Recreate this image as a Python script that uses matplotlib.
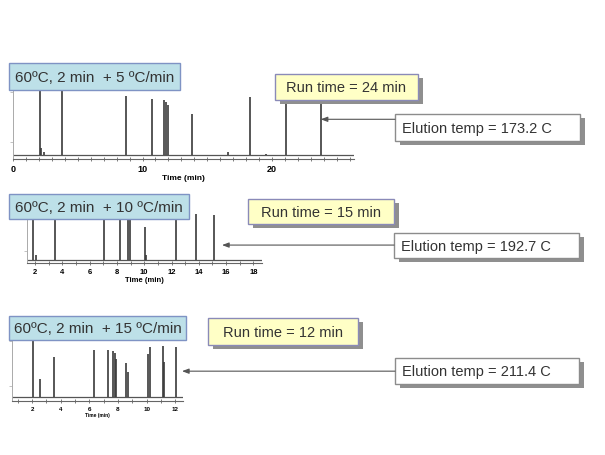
"""
三段升溫程式的層析圖比較
"""
import matplotlib
matplotlib.use("Agg")
import matplotlib.pyplot as plt
from matplotlib.patches import Rectangle
from matplotlib.ticker import MultipleLocator

plt.rcParams["font.family"] = ["Liberation Sans", "DejaVu Sans"]

W, H = 605, 456

# 各程式的標題、執行時間與溶出溫度
program_labels = ["60ºC, 2 min  + 5 ºC/min", "60ºC, 2 min  + 10 ºC/min", "60ºC, 2 min  + 15 ºC/min"]
run_times = [24, 15, 12]
elution_temps = [173.2, 192.7, 211.4]

# 5 ºC/min 峰的滯留時間 (min) 與相對高度
peaks_5_t = [2.1, 2.2, 2.4, 3.76, 8.7, 10.76, 11.66, 11.8, 12.0, 13.85, 16.6, 18.3, 19.5, 21.1, 23.76]
peaks_5_h = [1.05, 0.11, 0.05, 1.05, 0.91, 0.86, 0.85, 0.82, 0.77, 0.63, 0.05, 0.89, 0.02, 1.05, 1.05]

# 10 ºC/min
peaks_10_t = [1.88, 2.05, 3.47, 7.08, 8.23, 8.79, 8.96, 10.06, 10.15, 12.33, 13.8, 15.14]
peaks_10_h = [1.05, 0.10, 1.05, 0.96, 1.05, 1.05, 0.90, 0.70, 0.10, 1.0, 0.98, 0.96]

# 15 ºC/min
peaks_15_t = [2.08, 2.55, 3.52, 6.34, 7.28, 7.67, 7.79, 7.86, 8.56, 8.68, 10.08, 10.24, 11.13, 11.24, 12.06]
peaks_15_h = [1.05, 0.32, 0.69, 0.81, 0.81, 0.79, 0.76, 0.66, 0.59, 0.44, 0.74, 0.86, 0.88, 0.61, 0.86]

x_limits = [(0, 26.3), (1.41, 18.63), (0.57, 12.52)]
major_steps = [10, 2, 2]
# 軸框位置 (像素: 左, 右, 上, 下)
panel_px = [(13, 353.6, 91, 160), (27, 262, 214, 264), (11.7, 182.7, 340, 402)]
tick_sizes = [6.5, 5.5, 4.5]
xlabel_sizes = [6, 5.5, 3.5]

fig = plt.figure(figsize=(W / 100, H / 100), dpi=100)
fig.patch.set_facecolor("white")

axes = []
for (t, h), xlim, step, (l, r, top, bot), ts, ls in zip(
    [(peaks_5_t, peaks_5_h), (peaks_10_t, peaks_10_h), (peaks_15_t, peaks_15_h)],
    x_limits, major_steps, panel_px, tick_sizes, xlabel_sizes,
):
    ax = fig.add_axes([l / W, 1 - bot / H, (r - l) / W, (bot - top) / H])
    ax.set_xlim(*xlim)
    ax.set_ylim(-0.06, 1.0)
    ax.axhline(0, color="#555555", lw=0.9)
    ax.vlines(t, 0, h, color="#3a3a3a", lw=1.2, clip_on=True)
    for side in ("top", "right"):
        ax.spines[side].set_visible(False)
    ax.spines["left"].set_color("#aaaaaa")
    ax.spines["left"].set_linewidth(0.7)
    ax.spines["bottom"].set_color("#666666")
    ax.spines["bottom"].set_linewidth(0.8)
    ax.set_yticks([0.2, 0.97])
    ax.set_yticklabels([])
    ax.tick_params(axis="y", length=2, width=0.5, color="#aaaaaa")
    ax.xaxis.set_major_locator(MultipleLocator(step))
    ax.xaxis.set_minor_locator(MultipleLocator(1))
    ax.tick_params(axis="x", which="both", direction="inout", length=3, width=0.6,
                   color="#666666", labelsize=ts, pad=2)
    for lab in ax.get_xticklabels():
        lab.set_fontweight("bold")
    ax.set_xlabel("Time (min)", fontsize=ls, fontweight="bold", labelpad=1)
    ax.patch.set_alpha(0)
    axes.append(ax)

# 疊加一層像素座標的軸，用來畫標註框
ov = fig.add_axes([0, 0, 1, 1], zorder=10)
ov.set_xlim(0, W)
ov.set_ylim(H, 0)
ov.axis("off")
ov.patch.set_alpha(0)


def box(x, y, w, h, text, fc, ec, fs, shadow=False, pad=None):
    if shadow:
        ov.add_patch(Rectangle((x + 5, y + 4), w, h, fc="#8f8f8f", ec="none"))
    ov.add_patch(Rectangle((x, y), w, h, fc=fc, ec=ec, lw=1.0))
    if pad is None:
        ov.text(x + w / 2, y + h / 2 + 0.5, text, ha="center", va="center",
                fontsize=fs, color="#333333")
    else:
        ov.text(x + pad, y + h / 2 + 0.5, text, ha="left", va="center",
                fontsize=fs, color="#333333")


title_boxes = [(9, 64, 171, 27), (9, 195, 180, 25), (9, 317, 177, 24)]
run_boxes = [(275, 75, 143, 26), (248, 200, 146, 25), (208, 319, 150, 27)]
elu_boxes = [(395, 115, 185, 27), (394, 234, 185, 25), (395, 359, 184, 26)]
# 箭頭指向的位置 (資料座標: 時間, 高度)
arrow_tips = [(peaks_5_t[-1], 0.55), (15.7, 0.32), (12.47, 0.45)]

for i in range(3):
    box(*title_boxes[i], program_labels[i], "#bde0e8", "#7f93c4", 11)
    box(*run_boxes[i], f"Run time = {run_times[i]} min", "#ffffc6", "#8a8ab8", 10.5, shadow=True)
    box(*elu_boxes[i], f"Elution temp = {elution_temps[i]} C", "white", "#8c8c8c", 10.5,
        shadow=True, pad=7)
    tip = ov.transData.inverted().transform(axes[i].transData.transform(arrow_tips[i]))
    ex, ey, ew, eh = elu_boxes[i]
    ov.annotate("", xy=tip, xytext=(ex, tip[1]),
                arrowprops=dict(arrowstyle="-|>,head_length=0.4,head_width=0.15",
                                color="#555555", lw=0.8, shrinkA=0, shrinkB=0))

fig.savefig("out.png", dpi=100)
